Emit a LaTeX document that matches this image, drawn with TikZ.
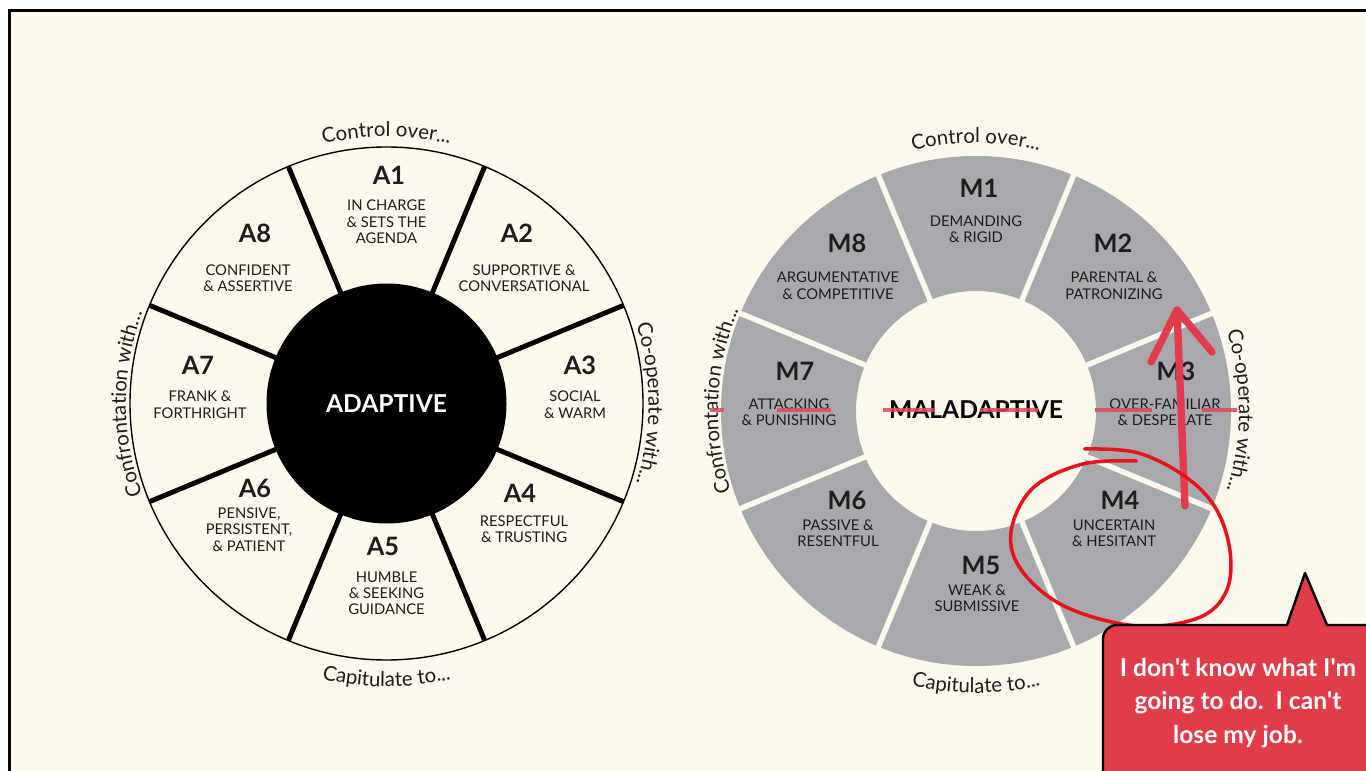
\documentclass[tikz,border=0pt]{standalone}
\usepackage{fontspec}
\setmainfont{Lato}
\usetikzlibrary{decorations.text,calc}
\definecolor{cream}{HTML}{FDF8EE}
\definecolor{wgray}{HTML}{A7A9AC}
\definecolor{ink}{HTML}{1E1C1D}
\definecolor{strike}{HTML}{E0475A}
\definecolor{arrowred}{HTML}{E23B4E}
\definecolor{loopred}{HTML}{E8121C}
\definecolor{callred}{HTML}{E03C4A}
\newcommand\arcfont{\fontsize{29}{31}\selectfont}
\begin{document}
\begin{tikzpicture}[x=0.05cm, y=-0.05cm,
  ttl/.style={font=\fontsize{36}{38}\selectfont\bfseries, text=ink, inner sep=0pt},
  dsc/.style={font=\fontsize{21}{23.2}\selectfont, text=ink, align=center, inner sep=0pt},
  hub/.style={font=\fontsize{35}{38}\selectfont\bfseries, inner sep=0pt},
  spoke/.style={line width=7pt, black},
  gapline/.style={line width=7.7pt, cream},
  strk/.style={strike, line width=4.3pt, opacity=0.85},
  arr/.style={arrowred, line width=10.5pt, line cap=round, line join=round},
  loopline/.style={loopred, line width=5pt, line cap=round},
  calltext/.style={font=\fontsize{35}{47.7}\selectfont\bfseries, text=white, align=center, inner sep=0pt},
  arctext/.style={decorate, decoration={text along path, text align=center, text color=ink, text={|\arcfont|#1}}}
]
\useasboundingbox (0,0) rectangle (1366,771);
\clip (0,0) rectangle (1366,771);
\fill[white] (0,0) rectangle (1366,771);
\fill[cream] (9.3,10.3) rectangle (1366,771);
\draw[line width=3.8pt, black] (9.3,790) -- (9.3,10.3) -- (1390,10.3);

% ---------- left wheel ----------
\coordinate (L) at (386.5,403.5);
\foreach \a in {22.5,67.5,...,337.5}
  \draw[spoke] ($(L)+(\a:115)$) -- ($(L)+(\a:256.5)$);
\draw[black, line width=2pt] (L) circle[radius=256.5];
\fill[black] (L) circle[radius=120];
\node[hub, text=white] (adaptive) at (386.5,403.5) {ADAPTIVE};

\node[ttl] (a1) at (389,175) {A1};
\node[dsc] (a1d) at (386.5,222) {IN CHARGE\\\& SETS THE\\AGENDA};
\node[ttl] (a2) at (517,233) {A2};
\node[dsc] (a2d) at (524,278.5) {SUPPORTIVE \&\\CONVERSATIONAL};
\node[ttl] (a3) at (580,365) {A3};
\node[dsc] (a3d) at (575,404.7) {SOCIAL\\\& WARM};
\node[ttl] (a4) at (520,493) {A4};
\node[dsc] (a4d) at (524,529.5) {RESPECTFUL\\\& TRUSTING};
\node[ttl] (a5) at (383,546.7) {A5};
\node[dsc] (a5d) at (386.5,593.3) {HUMBLE\\\& SEEKING\\GUIDANCE};
\node[ttl] (a6) at (255,488) {A6};
\node[dsc] (a6d) at (249,529.5) {PENSIVE,\\PERSISTENT,\\\& PATIENT};
\node[ttl] (a7) at (198,365) {A7};
\node[dsc] (a7d) at (200,404.7) {FRANK \&\\FORTHRIGHT};
\node[ttl] (a8) at (255,233) {A8};
\node[dsc] (a8d) at (248,278) {CONFIDENT\\\& ASSERTIVE};

\path[arctext={Control over...}] ($(L)+(-120:267)$) arc[start angle=-120, end angle=-60, radius=267];
\path[arctext={Capitulate to...}] ($(L)+(120:283)$) arc[start angle=120, end angle=60, radius=283];
\path[arctext={Confrontation with...}] ($(L)+(150:260.5)$) arc[start angle=150, end angle=210, radius=260.5];
\path[arctext={Co-operate with...}] ($(L)+(-30:262)$) arc[start angle=-30, end angle=30, radius=262];

% ---------- right wheel ----------
\coordinate (R) at (976,411);
\fill[wgray, even odd rule] (R) circle[radius=255] (R) circle[radius=120];
\foreach \a in {22.5,67.5,...,337.5}
  \draw[gapline] ($(R)+(\a:115)$) -- ($(R)+(\a:262)$);
\node[hub, text=black] (maladaptive) at (976,410) {MALADAPTIVE};

\node[ttl] (m1) at (979,188) {M1};
\node[dsc] (m1d) at (976,229.3) {DEMANDING\\\& RIGID};
\node[ttl] (m2) at (1113,243) {M2};
\node[dsc] (m2d) at (1114,285.7) {PARENTAL \&\\PATRONIZING};
\node[ttl] (m3) at (1176,371.7) {M3};
\node[dsc] (m3d) at (1165,412.3) {OVER-FAMILIAR\\\& DESPERATE};
\node[ttl] (m4) at (1120,500.7) {M4};
\node[dsc] (m4d) at (1114,533) {UNCERTAIN\\\& HESITANT};
\node[ttl] (m5) at (981,565) {M5};
\node[dsc] (m5d) at (977,598.3) {WEAK \&\\SUBMISSIVE};
\node[ttl] (m6) at (847,500.7) {M6};
\node[dsc] (m6d) at (838,533) {PASSIVE \&\\RESENTFUL};
\node[ttl] (m7) at (795,371.7) {M7};
\node[dsc] (m7d) at (789,412.3) {ATTACKING\\\& PUNISHING};
\node[ttl] (m8) at (847,243) {M8};
\node[dsc] (m8d) at (838,285.7) {ARGUMENTATIVE\\\& COMPETITIVE};

\path[arctext={Control over...}] ($(R)+(-120:268)$) arc[start angle=-120, end angle=-60, radius=268];
\path[arctext={Capitulate to...}] ($(R)+(120:282)$) arc[start angle=120, end angle=60, radius=282];
\path[arctext={Confrontation with...}] ($(R)+(152.4:258)$) arc[start angle=152.4, end angle=212.4, radius=258];
\path[arctext={Co-operate with...}] ($(R)+(-30:263)$) arc[start angle=-30, end angle=30, radius=263];

% ---------- red annotations ----------
\draw[strk] (710,410) -- (724,410);
\draw[strk] (777,410) -- (831,410);
\draw[strk] (883,410) -- (935,410);
\draw[strk] (980,410) -- (1038,410);
\draw[strk] (1095,410) -- (1152,410);
\draw[strk] (1202,410) -- (1237,410);

\coordinate (abot) at (1185,506);
\coordinate (atip) at (1177,310);
\coordinate (aleft) at (1151,362);
\coordinate (aright) at (1212,352);
\draw[arr] (abot) -- (atip);
\draw[arr] (aleft) -- (atip) -- (aright);

\draw[loopline] plot[smooth, tension=0.6] coordinates {(1084.6,449) (1136.4,452.5) (1183,475) (1215,507) (1230,551) (1226,592) (1198,618) (1137,626) (1066,607) (1022,571) (1011,532) (1032.9,488) (1082.9,464) (1136.4,461)};

% ---------- callout ----------
\draw[fill=callred, draw=black, line width=3.5pt, line join=round] (1103,800) -- (1103,639) arc[start angle=180, end angle=270, radius=14] -- (1287,625) -- (1305,573) -- (1327,625) -- (1400,625) -- (1400,800) -- cycle;
\node[calltext] (quote) at (1238,703) {I don\textquotesingle t know what I\textquotesingle m\\going to do.\ \ I can\textquotesingle t\\lose my job.};
\end{tikzpicture}
\end{document}
